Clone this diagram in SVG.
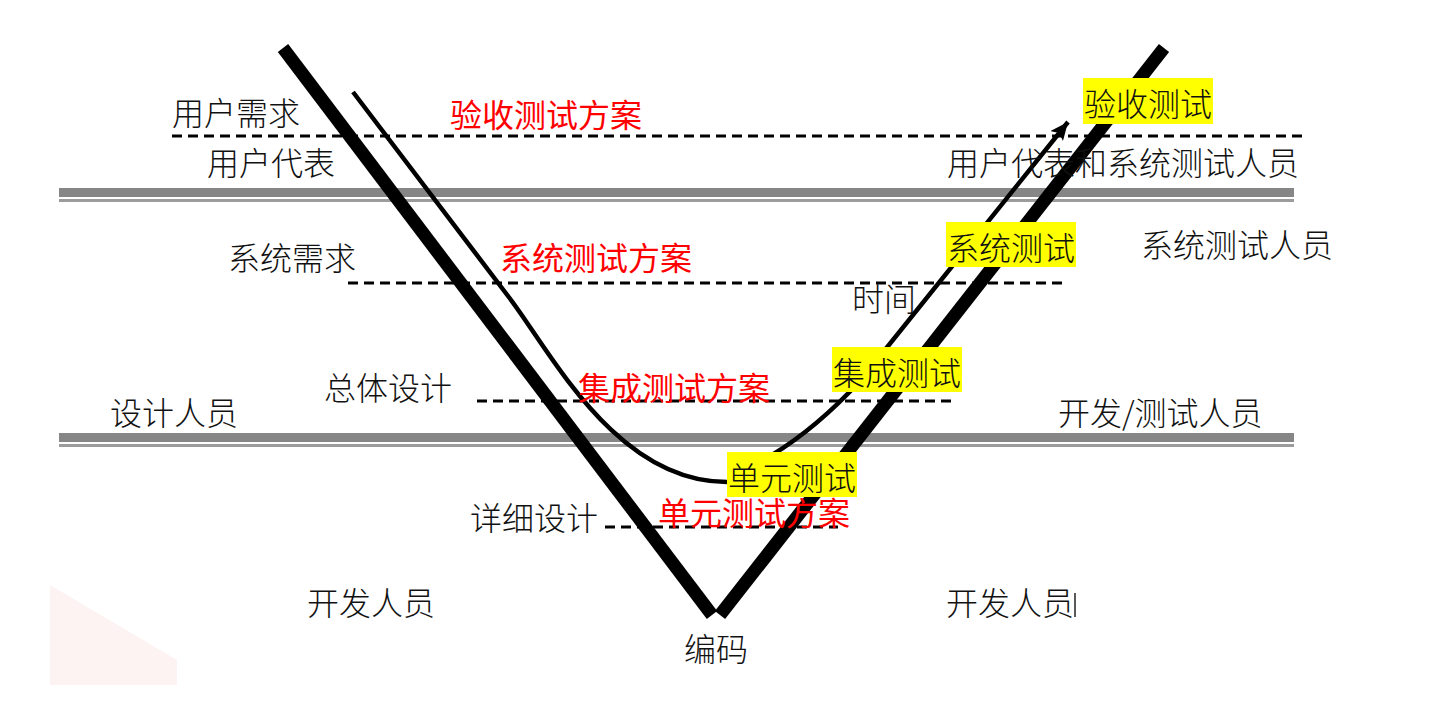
<svg xmlns="http://www.w3.org/2000/svg" width="1446" height="720" viewBox="0 0 1446 720">
<style>
  .t { font-family: "Noto Sans CJK SC", "Liberation Sans", sans-serif; font-size: 32px; fill: #111; font-weight: 300; }
  .r { font-family: "Noto Sans CJK SC", "Liberation Sans", sans-serif; font-size: 32px; fill: #ff0000; font-weight: 400; }
  .hl { fill: #ffff00; }
  .dash { stroke: #000; stroke-width: 3; stroke-dasharray: 10 6; fill: none; }
  .gthick { fill: #868686; }
  .gthin { fill: #9c9c9c; }
  .v { stroke: #000; stroke-width: 13; stroke-linecap: butt; fill: none; }
  .thin { stroke: #000; stroke-width: 4.5; fill: none; stroke-linecap: butt; }
</style>
<defs>
  <marker id="arrow" markerUnits="userSpaceOnUse" markerWidth="20" markerHeight="16" refX="18" refY="8" orient="auto">
    <path d="M0,0 L18,8 L0,16 L4,8 z" fill="#000"/>
  </marker>
</defs>
<rect width="1446" height="720" fill="#ffffff"/>
<polygon points="50,585 177,660 177,685 50,685" fill="#fdf3f3"/>

<g id="bands">
  <rect class="gthick" x="59" y="188" width="1235" height="9"/>
  <rect class="gthin" x="59" y="199" width="1235" height="3"/>
  <rect class="gthick" x="59" y="433" width="1235" height="9"/>
  <rect class="gthin" x="59" y="444" width="1235" height="3"/>
</g>

<g id="levels">
  <line class="dash" x1="172" y1="136" x2="1305" y2="136"/>
  <line class="dash" x1="348" y1="283" x2="1062" y2="283"/>
  <line class="dash" x1="477" y1="401" x2="951" y2="401"/>
  <line class="dash" x1="605" y1="527" x2="838" y2="527"/>
</g>

<g id="v-shape">
  <line class="v" x1="283" y1="48" x2="712" y2="615"/>
  <line class="v" x1="720" y1="615" x2="1164" y2="48"/>
</g>

<g id="connectors">
  <path class="thin" d="M353,92 L508,296 C550,350 615,482 727,482"/>
  <path class="thin" d="M772,455 C805,435 835,408 860,381 L1068,122" marker-end="url(#arrow)"/>
</g>

<g id="node-yonghu-xuqiu"><text class="t" x="172" y="125">用户需求</text></g>
<g id="node-yonghu-daibiao"><text class="t" x="207" y="175">用户代表</text></g>
<g id="node-xitong-xuqiu"><text class="t" x="228" y="270">系统需求</text></g>
<g id="node-zongti-sheji"><text class="t" x="324" y="400">总体设计</text></g>
<g id="node-sheji-renyuan"><text class="t" x="110" y="425">设计人员</text></g>
<g id="node-xiangxi-sheji"><text class="t" x="470" y="530">详细设计</text></g>
<g id="node-kaifa-left"><text class="t" x="307" y="615">开发人员</text></g>
<g id="node-bianma"><text class="t" x="684" y="661">编码</text></g>
<g id="node-kaifa-right"><text class="t" x="946" y="615">开发人员</text><line x1="1075" y1="593" x2="1075" y2="617" stroke="#222" stroke-width="1.5"/></g>
<g id="node-kaifa-ceshi"><text class="t" x="1058" y="425">开发/测试人员</text></g>
<g id="node-xitong-ceshi-renyuan"><text class="t" x="1141" y="257">系统测试人员</text></g>
<g id="node-daibiao-ceshi"><text class="t" x="947" y="175">用户代表和系统测试人员</text></g>
<g id="node-shijian"><text class="t" x="852" y="311">时间</text></g>

<g id="plan-yanshou"><text class="r" x="450" y="127">验收测试方案</text></g>
<g id="plan-xitong"><text class="r" x="500" y="270">系统测试方案</text></g>
<g id="plan-jicheng"><text class="r" x="578" y="400">集成测试方案</text></g>
<g id="plan-danyuan"><text class="r" x="658" y="525">单元测试方案</text></g>

<g id="test-yanshou"><rect class="hl" x="1083" y="78" width="130" height="46"/><text class="t" x="1084" y="116">验收测试</text></g>
<g id="test-xitong"><rect class="hl" x="946" y="222" width="130" height="45"/><text class="t" x="947" y="260">系统测试</text></g>
<g id="test-jicheng"><rect class="hl" x="832" y="347" width="130" height="45"/><text class="t" x="833" y="385">集成测试</text></g>
<g id="test-danyuan"><rect class="hl" x="727" y="452" width="130" height="45"/><text class="t" x="728" y="490">单元测试</text></g>
</svg>
